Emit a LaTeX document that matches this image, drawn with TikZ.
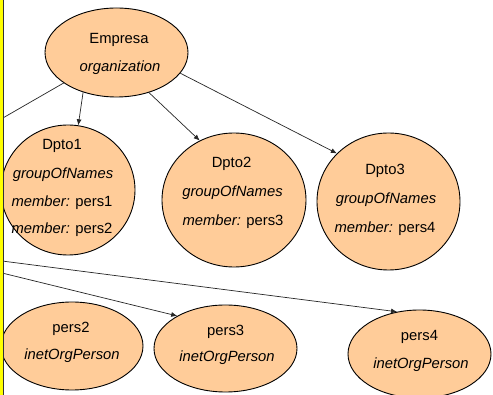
\documentclass[tikz,border=0pt]{standalone}
\usepackage{fontspec}
\setmainfont{Liberation Sans}
\usetikzlibrary{shapes.geometric,arrows.meta}
\definecolor{peach}{HTML}{FFCC99}
\definecolor{baryellow}{HTML}{FFFF00}
\definecolor{bardark}{HTML}{333333}
\tikzset{
  oval/.style={ellipse, draw=black, line width=0.9pt, fill=peach, inner sep=0pt},
  lbl/.style={anchor=base, inner sep=0pt, font=\fontsize{14.8}{17}\selectfont},
  edge/.style={draw=black!85, line width=0.7pt, -{Latex[length=6pt,width=5pt]}},
  plain/.style={draw=black!85, line width=0.7pt}
}
\begin{document}
\begin{tikzpicture}[x=1pt,y=-1pt]
\useasboundingbox (0,0) rectangle (493,395);
\clip (0,0) rectangle (493,395);
\fill[white] (0,0) rectangle (493,395);
% ellipses
\node[oval, minimum width=143pt, minimum height=89pt] (emp) at (116.5,52.5) {};
\node[oval, minimum width=134pt, minimum height=130pt] (d1) at (68,190) {};
\node[oval, minimum width=144pt, minimum height=134pt] (d2) at (234,200) {};
\node[oval, minimum width=143pt, minimum height=137pt] (d3) at (388.5,201.5) {};
\node[oval, minimum width=142pt, minimum height=88pt] (p2) at (72,346) {};
\node[oval, minimum width=143pt, minimum height=87pt] (p3) at (225.5,348.5) {};
\node[oval, minimum width=143pt, minimum height=88pt] (p4) at (419.5,354) {};
% texts
\node[lbl] (empA) at (119,43.5) {Empresa};
\node[lbl] (empB) at (120,72) {\textit{organization}};
\node[lbl] (d1A) at (62,149.3) {Dpto1};
\node[lbl] (d1B) at (63,178.3) {\textit{groupOfNames}};
\node[lbl] (d1C) at (62,206.5) {\textit{member:} pers1};
\node[lbl] (d1D) at (62,233.5) {\textit{member:} pers2};
\node[lbl] (d2A) at (231.5,168) {Dpto2};
\node[lbl] (d2B) at (232.5,197) {\textit{groupOfNames}};
\node[lbl] (d2C) at (233,226) {\textit{member:} pers3};
\node[lbl] (d3A) at (385,175) {Dpto3};
\node[lbl] (d3B) at (386,203.5) {\textit{groupOfNames}};
\node[lbl] (d3C) at (385,232.3) {\textit{member:} pers4};
\node[lbl] (p2A) at (71,332.7) {pers2};
\node[lbl] (p2B) at (72,360) {\textit{inetOrgPerson}};
\node[lbl] (p3A) at (225.7,336) {pers3};
\node[lbl] (p3B) at (227,361.7) {\textit{inetOrgPerson}};
\node[lbl] (p4A) at (419.5,341) {pers4};
\node[lbl] (p4B) at (421,369) {\textit{inetOrgPerson}};
% connectors
\draw[edge] (emp.230.4) -- (d1.81);
\draw[edge] (emp.309.6) -- (d2.120);
\draw[edge] (emp.342.6) -- (d3.137);
\coordinate (offA) at (2,118.5);
\coordinate (offB) at (2,261);
\coordinate (offC) at (2,273);
\draw[plain] (emp.210) -- (offA);
\draw[edge] (offB) -- (p4.118.8);
\draw[edge] (offC) -- (p3.146.3);
% left border
\fill[baryellow] (0,0) rectangle (2.7,395);
\fill[bardark] (2.7,0) rectangle (4.3,395);
\end{tikzpicture}
\end{document}
